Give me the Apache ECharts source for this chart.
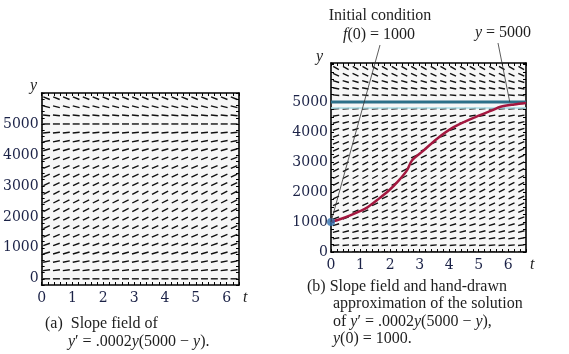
<!DOCTYPE html>
<html>
<head>
<meta charset="utf-8">
<script src="https://cdn.jsdelivr.net/npm/echarts@6/dist/echarts.min.js"></script>
<style>
  html, body { margin: 0; padding: 0; background: #fff; }
  #chart { width: 569px; height: 354px; }
</style>
</head>
<body>
<div id="chart"></div>
<script>
// slope field grid (a)
const colsA = [0.16, 0.48, 0.80, 1.12, 1.44, 1.76, 2.08, 2.40, 2.72, 3.04, 3.36, 3.68, 4.00, 4.32, 4.64, 4.96, 5.28, 5.60, 5.92, 6.24];
const rowsA = [0, 278, 556, 833, 1111, 1389, 1667, 1944, 2222, 2500, 2778, 3056, 3333, 3611, 3889, 4167, 4444, 4722, 5000, 5278, 5556, 5833];
// slope field grid (b)
const colsB = [0.17, 0.50, 0.83, 1.16, 1.49, 1.82, 2.15, 2.48, 2.81, 3.14, 3.47, 3.80, 4.13, 4.46, 4.79, 5.12, 5.45, 5.78, 6.11, 6.44];
const rowsB = [0, 227, 455, 682, 909, 1136, 1364, 1591, 1818, 2045, 2273, 2500, 2727, 2955, 3182, 3409, 3636, 3864, 4091, 4318, 4545, 4773, 5000, 5227, 5455, 5682, 5909, 6136];
// hand-drawn solution (b)
const solT = [0, 0.3, 0.65, 1.0, 1.22, 1.56, 1.95, 2.29, 2.57, 2.74, 3.13, 3.58, 4.15, 4.82, 5.45, 5.74, 6.2, 6.6];
const solY = [1000, 1090, 1220, 1370, 1480, 1730, 2040, 2380, 2720, 3050, 3380, 3770, 4160, 4470, 4720, 4840, 4920, 4970];
const initPoint = [0, 1000];
const equilibrium = 5000;
const xTicks = [0, 1, 2, 3, 4, 5, 6];

function slope(y) { return 0.0002 * y * (5000 - y); }

function fieldData(cols, rows) {
    const out = [];
    rows.forEach(y => cols.forEach(t => out.push([t, y])));
    return out;
}

function dashRenderer(len) {
    return function (params, api) {
        const p = api.coord([api.value(0), api.value(1)]);
        const a = Math.atan(slope(api.value(1)) * 0.52 / 1250);
        const dx = Math.cos(a) * len / 2, dy = Math.sin(a) * len / 2;
        return {
            type: 'line',
            shape: { x1: p[0] - dx, y1: p[1] + dy, x2: p[0] + dx, y2: p[1] - dy },
            style: { stroke: '#111', lineWidth: 1.4 }
        };
    };
}

const serif = '"Liberation Serif", "DejaVu Serif", serif';
const digits = '"DejaVu Serif", serif';
const ink = '#1b2247';

function xAxisFor(grid, max, pos) {
    return {
        type: 'value', gridIndex: grid, min: 0, max: max, interval: 0.2, position: pos,
        axisLine: { show: true, onZero: false, lineStyle: { color: '#000', width: 1.6 } },
        axisTick: { show: true, inside: true, length: 3, lineStyle: { color: '#000', width: 1 } },
        splitLine: { show: false },
        axisLabel: {
            show: pos === 'bottom', margin: 6, color: ink, fontFamily: digits, fontSize: 14,
            formatter: v => Math.abs(v - Math.round(v)) < 1e-6 && xTicks.includes(Math.round(v)) ? String(Math.round(v)) : ''
        }
    };
}
function yAxisFor(grid, min, max, step, pos) {
    return {
        type: 'value', gridIndex: grid, min: min, max: max, interval: step, position: pos,
        axisLine: { show: true, onZero: false, lineStyle: { color: '#000', width: 1.6 } },
        axisTick: { show: true, inside: true, length: 3, lineStyle: { color: '#000', width: 1 } },
        splitLine: { show: false },
        axisLabel: {
            show: pos === 'left', margin: 3, color: ink, fontFamily: digits, fontSize: 14,
            formatter: v => (Math.round(v) % 1000 === 0 && v >= 0 && v <= 5000) ? String(Math.round(v)) : ''
        }
    };
}

const chart = echarts.init(document.getElementById('chart'));
const option = {
    animation: false,
    backgroundColor: '#fff',
    grid: [
        { left: 41, top: 93, width: 198, height: 192, show: true, backgroundColor: '#f7f7f7', borderWidth: 0 },
        { left: 331, top: 63, width: 195, height: 189, show: true, backgroundColor: '#f7f7f7', borderWidth: 0 }
    ],
    xAxis: [
        xAxisFor(0, 6.4, 'bottom'), xAxisFor(1, 6.6, 'bottom'),
        xAxisFor(0, 6.4, 'top'), xAxisFor(1, 6.6, 'top')
    ],
    yAxis: [
        yAxisFor(0, -200, 6000, 200, 'left'), yAxisFor(1, 0, 6300, 250, 'left'),
        yAxisFor(0, -200, 6000, 200, 'right'), yAxisFor(1, 0, 6300, 250, 'right')
    ],
    series: [
        { type: 'custom', xAxisIndex: 0, yAxisIndex: 0, renderItem: dashRenderer(7), data: fieldData(colsA, rowsA), clip: true, silent: true },
        { type: 'custom', xAxisIndex: 1, yAxisIndex: 1, renderItem: dashRenderer(6.5), data: fieldData(colsB, rowsB), clip: true, silent: true },
        {
            type: 'line', xAxisIndex: 1, yAxisIndex: 1, symbol: 'none', silent: true,
            data: [[0, equilibrium - 200], [6.6, equilibrium - 200]],
            lineStyle: { color: '#a9dde6', width: 1.5 }
        },
        {
            type: 'line', xAxisIndex: 1, yAxisIndex: 1, symbol: 'none', silent: true,
            data: [[0, equilibrium], [6.6, equilibrium]],
            lineStyle: { color: '#2c6f88', width: 3 }
        },
        {
            type: 'line', xAxisIndex: 1, yAxisIndex: 1, symbol: 'none', smooth: 0.3, silent: true,
            data: solT.map((t, i) => [t, solY[i]]),
            lineStyle: { color: '#a3173f', width: 2.5 }
        },
        {
            type: 'scatter', xAxisIndex: 1, yAxisIndex: 1, symbolSize: 8, clip: false, silent: true,
            data: [initPoint], itemStyle: { color: '#2f6fae' }, z: 5
        }
    ]
};
chart.setOption(option);

// annotation texts and leader lines
const p0 = chart.convertToPixel({ gridIndex: 1 }, initPoint);
const pEq = chart.convertToPixel({ gridIndex: 1 }, [6.05, equilibrium]);
function txt(x, y, str, extra) {
    return {
        type: 'text', x: x, y: y,
        style: Object.assign({
            text: str, fill: '#1e1e1e', font: '16px ' + serif, verticalAlign: 'middle',
            rich: { i: { fontStyle: 'italic', fontFamily: serif, fontSize: 16, fill: '#1e1e1e' } }
        }, extra || {})
    };
}
chart.setOption({
    graphic: [
        { type: 'line', shape: { x1: p0[0], y1: p0[1], x2: 380, y2: 45 }, style: { stroke: '#333', lineWidth: 0.8 }, z: 10 },
        { type: 'line', shape: { x1: pEq[0], y1: pEq[1], x2: 498, y2: 43 }, style: { stroke: '#333', lineWidth: 0.8 }, z: 10 },
        txt(380, 16, 'Initial condition', { align: 'center' }),
        txt(379, 35, '{i|f}(0) = 1000', { align: 'center' }),
        txt(503, 33, '{i|y} = 5000', { align: 'center' }),
        txt(37, 86, '{i|y}', { align: 'right', fill: ink }),
        txt(323, 57, '{i|y}', { align: 'right', fill: ink }),
        txt(243, 298, '{i|t}', { fill: ink }),
        txt(530, 265, '{i|t}', { fill: ink }),
        txt(45, 324, '(a)  Slope field of'),
        txt(68, 342, '{i|y}\u2032 = .0002{i|y}(5000 \u2212 {i|y}).'),
        txt(307, 287, '(b) Slope field and hand-drawn'),
        txt(333, 304, 'approximation of the solution'),
        txt(333, 322, 'of {i|y}\u2032 = .0002{i|y}(5000 \u2212 {i|y}),'),
        txt(333, 339, '{i|y}(0) = 1000.')
    ]
});
window.addEventListener('resize', function () { chart.resize(); });
</script>
</body>
</html>
